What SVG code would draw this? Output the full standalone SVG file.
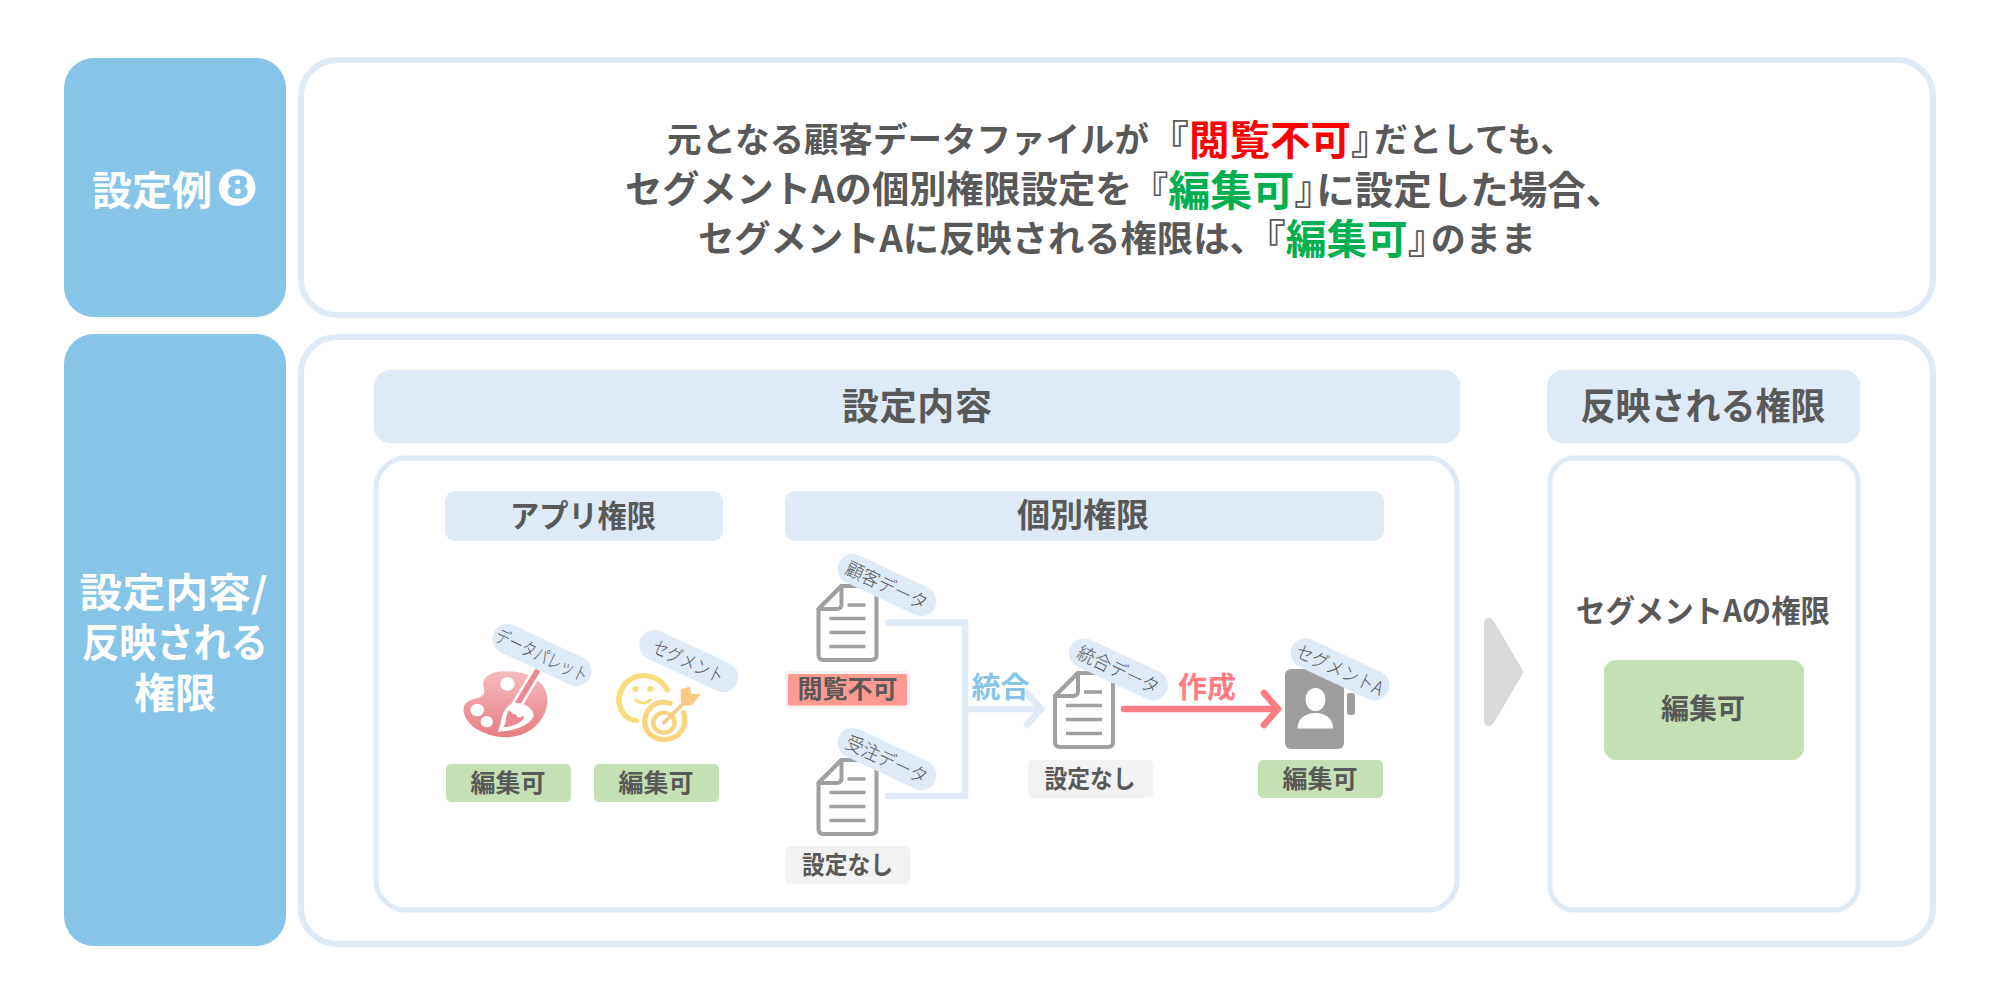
<svg xmlns="http://www.w3.org/2000/svg" width="2000" height="1004" viewBox="0 0 2000 1004">
<style>
text{font-family:"Noto Sans CJK JP","Noto Sans",sans-serif;fill:#595959;text-anchor:middle;dominant-baseline:central}
.b{font-weight:700}
.w{fill:#fff;font-weight:700;font-size:40px}
.big{font-size:40px;font-weight:700;text-anchor:start}
.red{fill:#ff0000}.grn{fill:#00b050}
.hd{font-size:37px;font-weight:700}
.sub{font-size:31px;font-weight:700}
.bd{font-size:25px;font-weight:700}
.pl{font-size:19px;font-weight:300}
.side{fill:#87c5e8}
.frame{fill:#fff;stroke:#deeaf6;stroke-width:6}
.bar{fill:#deeaf6}
.gr{fill:#c5e0b4}.gy{fill:#f2f2f2}
.conn{fill:none;stroke-width:6.5;stroke-linecap:round;stroke-linejoin:miter}
.doc{fill:#fff;stroke:#a0a0a0;stroke-width:4;stroke-linejoin:round}
.ln{stroke:#a0a0a0;stroke-width:3.400;fill:none}
</style>
<defs>
<linearGradient id="pal" x1="0" y1="0" x2="0" y2="1"><stop offset="0" stop-color="#f6bcc0"/><stop offset="1" stop-color="#e77d83"/></linearGradient>
<symbol id="docicon" overflow="visible">
<path class="doc" d="M25 2 L2 25 V71 Q2 76 7 76 H55 Q60 76 60 71 V2 Z"/>
<path class="doc" d="M25 2 V20 Q25 25 20 25 H2 Z"/>
<path class="ln" d="M31 21H49M13 34.500H49M13 48.500H49M13 62.500H49"/>
</symbol>
</defs>
<rect width="2000" height="1004" fill="#fff"/>

<g id="side-1"><rect class="side" x="64" y="58" width="222" height="259" rx="30"/>
<text class="w" x="92" y="188" style="text-anchor:start">設定例<tspan x="216" font-size="50" style="font-family:'DejaVu Sans',sans-serif">❽</tspan></text></g>

<g id="summary"><rect class="frame" x="301" y="60" width="1632" height="255" rx="36"/>
<text class="big" x="667" y="137"><tspan style="font-size:34.500px">元となる顧客データファイルが</tspan>『<tspan class="red" style="font-size:40.500px">閲覧不可</tspan><tspan letter-spacing="-17">』</tspan><tspan style="font-size:34px">だとしても、</tspan></text>
<text class="big" x="625" y="187"><tspan style="font-size:37.200px">セグメントAの個別権限設定を</tspan><tspan style="font-size:36px">『</tspan><tspan class="grn" style="font-size:42px">編集可</tspan><tspan letter-spacing="-18">』</tspan><tspan style="font-size:38.500px">に設定した場合、</tspan></text>
<text class="big" x="698" y="236"><tspan style="font-size:36.300px">セグメントAに反映される権限は、</tspan>『<tspan class="grn" style="font-size:40.700px">編集可</tspan><tspan letter-spacing="-17">』</tspan><tspan style="font-size:35px">のまま</tspan></text></g>

<g id="side-2"><rect class="side" x="64" y="334" width="222" height="612" rx="30"/>
<text class="w" x="173.500" y="590" textLength="188" lengthAdjust="spacingAndGlyphs">設定内容/</text>
<text class="w" x="175" y="640" textLength="186" lengthAdjust="spacingAndGlyphs">反映される</text>
<text class="w" x="175" y="690" style="font-size:41px">権限</text></g>

<g id="detail"><rect class="frame" x="301" y="337" width="1632" height="607" rx="36"/></g>

<g id="head-settings"><rect class="bar" x="374" y="370" width="1086" height="73" rx="16"/><text class="hd" x="917" y="404" textLength="150" lengthAdjust="spacing">設定内容</text></g>
<g id="head-result"><rect class="bar" x="1547" y="370" width="313" height="73" rx="16"/><text class="hd" x="1703" y="404" textLength="245" lengthAdjust="spacingAndGlyphs">反映される権限</text></g>
<g id="panel-settings"><rect class="frame" x="376" y="458" width="1081" height="452" rx="30" style="stroke-width:5"/></g>
<g id="panel-result"><rect class="frame" x="1550" y="458" width="308" height="452" rx="24" style="stroke-width:5"/></g>
<g id="head-app"><rect class="bar" x="445" y="491" width="278" height="50" rx="10"/><text class="sub" x="583" y="513" textLength="146" lengthAdjust="spacingAndGlyphs">アプリ権限</text></g>
<g id="head-indiv"><rect class="bar" x="785" y="491" width="599" height="50" rx="10"/><text class="sub" x="1083" y="513" style="font-size:33px">個別権限</text></g>

<g id="connectors">
<path class="conn" stroke="#deeaf6" d="M888 622.500H965V796H888M965 709H1039"/>
<path class="conn" stroke="#deeaf6" d="M1027 693L1041 709L1027 725"/>
<path class="conn" stroke="#ff7c80" d="M1124 709H1276M1264 693L1278 709L1264 725"/>
</g>
<text class="b" x="1000.500" y="685" style="fill:#87c5e8;font-size:29px">統合</text>
<text class="b" x="1207" y="685" style="fill:#ff7c80;font-size:29px">作成</text>

<g id="palette">
<g transform="translate(420 530) scale(.35714 .33333)">
<path fill="url(#pal)" d="M230 424C185 428 170 450 180 480C186 512 125 498 122 535C120 590 190 622 240 622C310 622 357 565 357 510C357 460 310 420 230 424Z"/>
<circle cx="245" cy="462" r="20" fill="#fff"/><circle cx="160" cy="540" r="19" fill="#fff"/><circle cx="187" cy="575" r="17" fill="#fff"/>
<path d="M330 420L268 530" stroke="#fff" stroke-width="30" fill="none"/>
<path d="M330 420L268 530" stroke="#ea8a90" stroke-width="16" fill="none"/>
<path d="M255 522C222 545 232 580 217 605C270 604 318 580 318 552C312 530 280 510 255 522Z" fill="#fff"/>
<path d="M232 592C246 575 236 560 250 540C258 550 262 555 268 552C272 565 280 566 290 556C296 575 262 590 232 592Z" fill="#ea8a90"/>
</g>
<g transform="translate(542 655) rotate(25)"><rect x="-53" y="-15" width="106" height="30" rx="15" class="bar"/><text class="pl" y="-1" textLength="100" lengthAdjust="spacingAndGlyphs">データパレット</text></g>
<rect class="gr" x="446" y="764" width="125" height="38" rx="5"/><text class="bd" x="508" y="781">編集可</text>
</g>

<g id="segment">
<g transform="translate(420 530) scale(.35714 .33333)" fill="none">
<path d="M692 480C670 430 600 420 568 470C540 520 570 570 605 572" stroke="#f9dd7c" stroke-width="16" stroke-linecap="round"/>
<circle cx="603" cy="477" r="9" fill="#f9dd7c"/><circle cx="645" cy="477" r="9" fill="#f9dd7c"/>
<path d="M604 510Q625 528 645 510" stroke="#f9dd7c" stroke-width="9" stroke-linecap="round"/>
<path d="M700 520C650 505 625 550 630 585C640 640 720 645 738 590C745 565 740 555 738 548" stroke="#f9d57e" stroke-width="15" stroke-linecap="round"/>
<circle cx="683" cy="578" r="30" stroke="#f9d57e" stroke-width="13"/>
<path d="M683 578L745 512" stroke="#f8ca85" stroke-width="11" stroke-linecap="round"/>
<path d="M730 510L730 478L755 470L760 492L786 492L762 525L735 528Z" fill="#f8ca85"/>
</g>
<g transform="translate(688.700 661) rotate(25)"><rect x="-53" y="-15" width="106" height="30" rx="15" class="bar"/><text class="pl" y="-1" textLength="76" lengthAdjust="spacingAndGlyphs">セグメント</text></g>
<rect class="gr" x="594" y="764" width="125" height="38" rx="5"/><text class="bd" x="656" y="781">編集可</text>
</g>

<g id="customer-data">
<use href="#docicon" x="816.500" y="584"/>
<g transform="translate(887 585) rotate(25)"><rect x="-53" y="-15" width="106" height="30" rx="15" class="bar"/><text class="pl" y="-1" textLength="88" lengthAdjust="spacingAndGlyphs">顧客データ</text></g>
<rect x="786.500" y="672.500" width="122" height="34.500" rx="3" fill="#ff9a93" stroke="#f2f2f2" stroke-width="3"/><text class="bd" x="847.500" y="687">閲覧不可</text>
</g>

<g id="order-data">
<use href="#docicon" x="816.500" y="758"/>
<g transform="translate(887 759) rotate(25)"><rect x="-53" y="-15" width="106" height="30" rx="15" class="bar"/><text class="pl" y="-1" textLength="88" lengthAdjust="spacingAndGlyphs">受注データ</text></g>
<rect class="gy" x="785" y="846" width="125" height="38" rx="5"/><text class="bd" x="847.500" y="863" textLength="91" lengthAdjust="spacingAndGlyphs">設定なし</text>
</g>

<g id="merged-data">
<use href="#docicon" x="1053" y="671"/>
<g transform="translate(1118.600 669.300) rotate(25)"><rect x="-53" y="-15" width="106" height="30" rx="15" class="bar"/><text class="pl" y="-1" textLength="88" lengthAdjust="spacingAndGlyphs">統合データ</text></g>
<rect class="gy" x="1028" y="760" width="125" height="38" rx="5"/><text class="bd" x="1090" y="777" textLength="91" lengthAdjust="spacingAndGlyphs">設定なし</text>
</g>

<g id="segment-a">
<rect x="1285" y="669" width="59" height="80" rx="6" fill="#9e9e9e"/>
<rect x="1347" y="693" width="8" height="22" rx="3" fill="#9e9e9e"/>
<ellipse cx="1315.500" cy="699.500" rx="10" ry="11.500" fill="#fff"/>
<path d="M1297.500 728.500C1297.500 718 1306 713 1315.500 713C1325 713 1333 718 1333 728.500Z" fill="#fff"/>
<g transform="translate(1340 669.300) rotate(25)"><rect x="-53" y="-15" width="106" height="30" rx="15" class="bar"/><text class="pl" y="-1" textLength="94" lengthAdjust="spacingAndGlyphs">セグメントA</text></g>
<rect class="gr" x="1258" y="760" width="125" height="38" rx="5"/><text class="bd" x="1320" y="777">編集可</text>
</g>

<g id="big-arrow"><path d="M1489 623L1518 672L1489 721Z" fill="#d9d9d9" stroke="#d9d9d9" stroke-width="10" stroke-linejoin="round"/></g>

<g id="result">
<text class="sub" x="1703" y="608" textLength="254" lengthAdjust="spacingAndGlyphs">セグメントAの権限</text>
<rect class="gr" x="1604" y="660" width="200" height="100" rx="12"/><text class="bd" x="1703" y="707" style="font-size:28px">編集可</text>
</g>
</svg>
